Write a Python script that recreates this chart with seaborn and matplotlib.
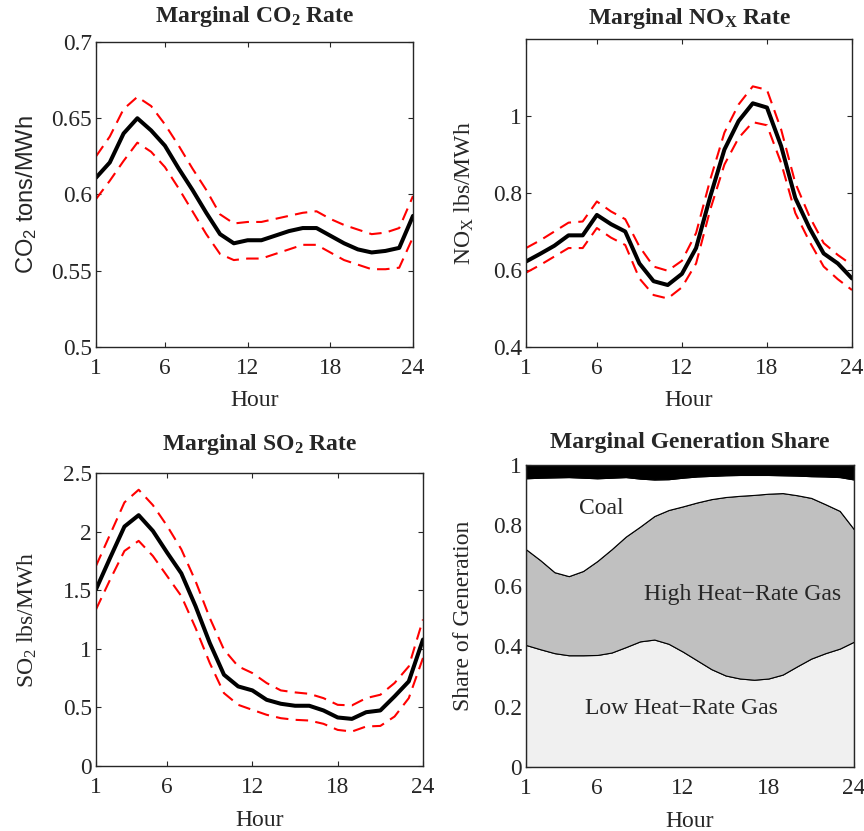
import numpy as np
import pandas as pd
import matplotlib
matplotlib.use("Agg")
import matplotlib.pyplot as plt
import seaborn as sns

# hourly values
hours = list(range(1, 25))

co2_mean = [0.611, 0.621, 0.640, 0.650, 0.642, 0.632, 0.617, 0.603, 0.588, 0.574, 0.568, 0.570,
            0.570, 0.573, 0.576, 0.578, 0.578, 0.573, 0.568, 0.564, 0.562, 0.563, 0.565, 0.586]
co2_upper = [0.625, 0.638, 0.656, 0.664, 0.658, 0.646, 0.632, 0.617, 0.603, 0.587, 0.581, 0.582,
             0.582, 0.584, 0.586, 0.588, 0.589, 0.584, 0.580, 0.577, 0.574, 0.575, 0.578, 0.599]
co2_lower = [0.597, 0.609, 0.622, 0.634, 0.628, 0.618, 0.604, 0.589, 0.574, 0.561, 0.557, 0.558,
             0.558, 0.561, 0.564, 0.567, 0.567, 0.562, 0.557, 0.554, 0.551, 0.551, 0.552, 0.572]

nox_mean = [0.622, 0.642, 0.663, 0.690, 0.690, 0.743, 0.719, 0.700, 0.617, 0.571, 0.561, 0.590,
            0.657, 0.791, 0.913, 0.987, 1.033, 1.022, 0.922, 0.787, 0.709, 0.643, 0.617, 0.578]
nox_upper = [0.657, 0.677, 0.700, 0.723, 0.726, 0.778, 0.752, 0.732, 0.661, 0.609, 0.598, 0.624,
             0.696, 0.835, 0.957, 1.030, 1.077, 1.068, 0.965, 0.826, 0.739, 0.670, 0.639, 0.613]
nox_lower = [0.593, 0.613, 0.635, 0.657, 0.657, 0.709, 0.684, 0.665, 0.578, 0.535, 0.526, 0.555,
             0.617, 0.757, 0.874, 0.943, 0.984, 0.976, 0.878, 0.748, 0.674, 0.609, 0.576, 0.548]

so2_mean = [1.507, 1.778, 2.043, 2.140, 2.006, 1.821, 1.644, 1.364, 1.050, 0.779, 0.679, 0.645,
            0.565, 0.531, 0.514, 0.514, 0.474, 0.414, 0.402, 0.459, 0.474, 0.594, 0.722, 1.079]
so2_upper = [1.707, 1.978, 2.249, 2.357, 2.226, 2.049, 1.849, 1.578, 1.264, 0.993, 0.850, 0.793,
             0.708, 0.645, 0.628, 0.616, 0.579, 0.522, 0.517, 0.579, 0.608, 0.708, 0.850, 1.250]
so2_lower = [1.336, 1.592, 1.835, 1.921, 1.792, 1.621, 1.450, 1.179, 0.879, 0.622, 0.522, 0.479,
             0.437, 0.408, 0.394, 0.388, 0.360, 0.308, 0.294, 0.337, 0.342, 0.422, 0.579, 0.922]

# cumulative shares (top edge of each band)
low_gas_top = [0.404, 0.390, 0.377, 0.370, 0.370, 0.371, 0.379, 0.397, 0.416, 0.422, 0.408, 0.382,
               0.353, 0.324, 0.303, 0.293, 0.289, 0.293, 0.306, 0.333, 0.359, 0.377, 0.392, 0.415]
high_gas_top = [0.721, 0.685, 0.645, 0.632, 0.649, 0.682, 0.721, 0.763, 0.796, 0.831, 0.851, 0.863,
                0.876, 0.887, 0.894, 0.898, 0.901, 0.905, 0.907, 0.900, 0.891, 0.870, 0.848, 0.787]
coal_top = [0.956, 0.958, 0.959, 0.960, 0.958, 0.956, 0.958, 0.960, 0.955, 0.952, 0.953, 0.958,
            0.962, 0.964, 0.966, 0.967, 0.967, 0.967, 0.966, 0.965, 0.963, 0.962, 0.960, 0.952]
other_top = [1.0] * 24

xticks = [1, 6, 12, 18, 24]

sns.set_style("ticks")
plt.rcParams["font.family"] = ["Liberation Serif", "DejaVu Serif"]
plt.rcParams["mathtext.default"] = "regular"
plt.rcParams["axes.linewidth"] = 1.0
plt.rcParams["xtick.direction"] = "in"
plt.rcParams["ytick.direction"] = "in"
plt.rcParams["xtick.top"] = True
plt.rcParams["ytick.right"] = True
plt.rcParams["xtick.major.size"] = 3.5
plt.rcParams["ytick.major.size"] = 3.5
plt.rcParams["xtick.major.pad"] = 8
plt.rcParams["ytick.major.pad"] = 3
plt.rcParams["xtick.labelsize"] = 16.8
plt.rcParams["ytick.labelsize"] = 16.8

fig = plt.figure(figsize=(8.64, 8.31), dpi=100)
W, H = 864, 831


def box(l, r, t, b):
    return [l / W, (H - b) / H, (r - l) / W, (b - t) / H]


ax1 = fig.add_axes(box(96, 413, 42, 347))
ax2 = fig.add_axes(box(526, 852, 39, 347))
ax3 = fig.add_axes(box(96, 423, 473, 766))
ax4 = fig.add_axes(box(526, 854, 465, 767))

FS = 17
DASH = (0, (6, 3.5))


def decorate(ax, title, ylabel, title_y, ylab_x, xlab_y, label_family=None):
    ax.set_xlim(1, 24)
    ax.set_xticks(xticks)
    ax.set_title(title, fontsize=FS, fontweight="bold", y=title_y, va="center", pad=0)
    ax.set_xlabel("Hour", fontsize=FS)
    if label_family:
        ax.set_ylabel(ylabel, fontsize=FS, family=label_family)
    else:
        ax.set_ylabel(ylabel, fontsize=FS)
    ax.yaxis.set_label_coords(ylab_x, 0.5)
    ax.xaxis.set_label_coords(0.5, xlab_y)
    ax.yaxis.label.set_va("center")
    ax.xaxis.label.set_va("center")
    for sp in ax.spines.values():
        sp.set_zorder(5)


def rate_panel(ax, mean, upper, lower, ylim, yticks):
    df = pd.DataFrame({"Hour": hours, "mean": mean, "upper": upper, "lower": lower})
    sns.lineplot(data=df, x="Hour", y="upper", ax=ax, color="red", lw=1.5, linestyle=DASH)
    sns.lineplot(data=df, x="Hour", y="lower", ax=ax, color="red", lw=1.5, linestyle=DASH)
    sns.lineplot(data=df, x="Hour", y="mean", ax=ax, color="black", lw=2.9)
    ax.set_ylim(*ylim)
    ax.set_yticks(yticks)
    ax.set_yticklabels([f"{v:g}" for v in yticks])


rate_panel(ax1, co2_mean, co2_upper, co2_lower, (0.5, 0.7), [0.5, 0.55, 0.6, 0.65, 0.7])
decorate(ax1, "Marginal CO$_2$ Rate", "CO$_2$ tons/MWh", 1.082, -0.218, -0.177,
         label_family=["Liberation Sans"])

rate_panel(ax2, nox_mean, nox_upper, nox_lower, (0.4, 1.2), [0.4, 0.6, 0.8, 1.0])
decorate(ax2, "Marginal NO$_X$ Rate", "NO$_X$ lbs/MWh", 1.068, -0.190, -0.175)

rate_panel(ax3, so2_mean, so2_upper, so2_lower, (0, 2.5), [0, 0.5, 1, 1.5, 2, 2.5])
decorate(ax3, "Marginal SO$_2$ Rate", "SO$_2$ lbs/MWh", 1.096, -0.211, -0.187)

# generation share panel
bands = [([0] * 24, low_gas_top, "#f0f0f0"),
         (low_gas_top, high_gas_top, "#c0c0c0"),
         (high_gas_top, coal_top, "white"),
         (coal_top, other_top, "black")]
for lo, hi, c in bands:
    ax4.fill_between(hours, lo, hi, facecolor=c, edgecolor="black", lw=0.8)
ax4.set_ylim(0, 1)
ax4.set_yticks([0, 0.2, 0.4, 0.6, 0.8, 1])
ax4.set_yticklabels(["0", "0.2", "0.4", "0.6", "0.8", "1"])
decorate(ax4, "Marginal Generation Share", "Share of Generation", 1.073, -0.190, -0.179)
ax4.text(6.3, 0.856, "Coal", fontsize=FS, ha="center", va="center")
ax4.text(16.2, 0.571, "High Heat\u2212Rate Gas", fontsize=FS, ha="center", va="center")
ax4.text(11.9, 0.194, "Low Heat\u2212Rate Gas", fontsize=FS, ha="center", va="center")

fig.savefig("out.png", dpi=100)
